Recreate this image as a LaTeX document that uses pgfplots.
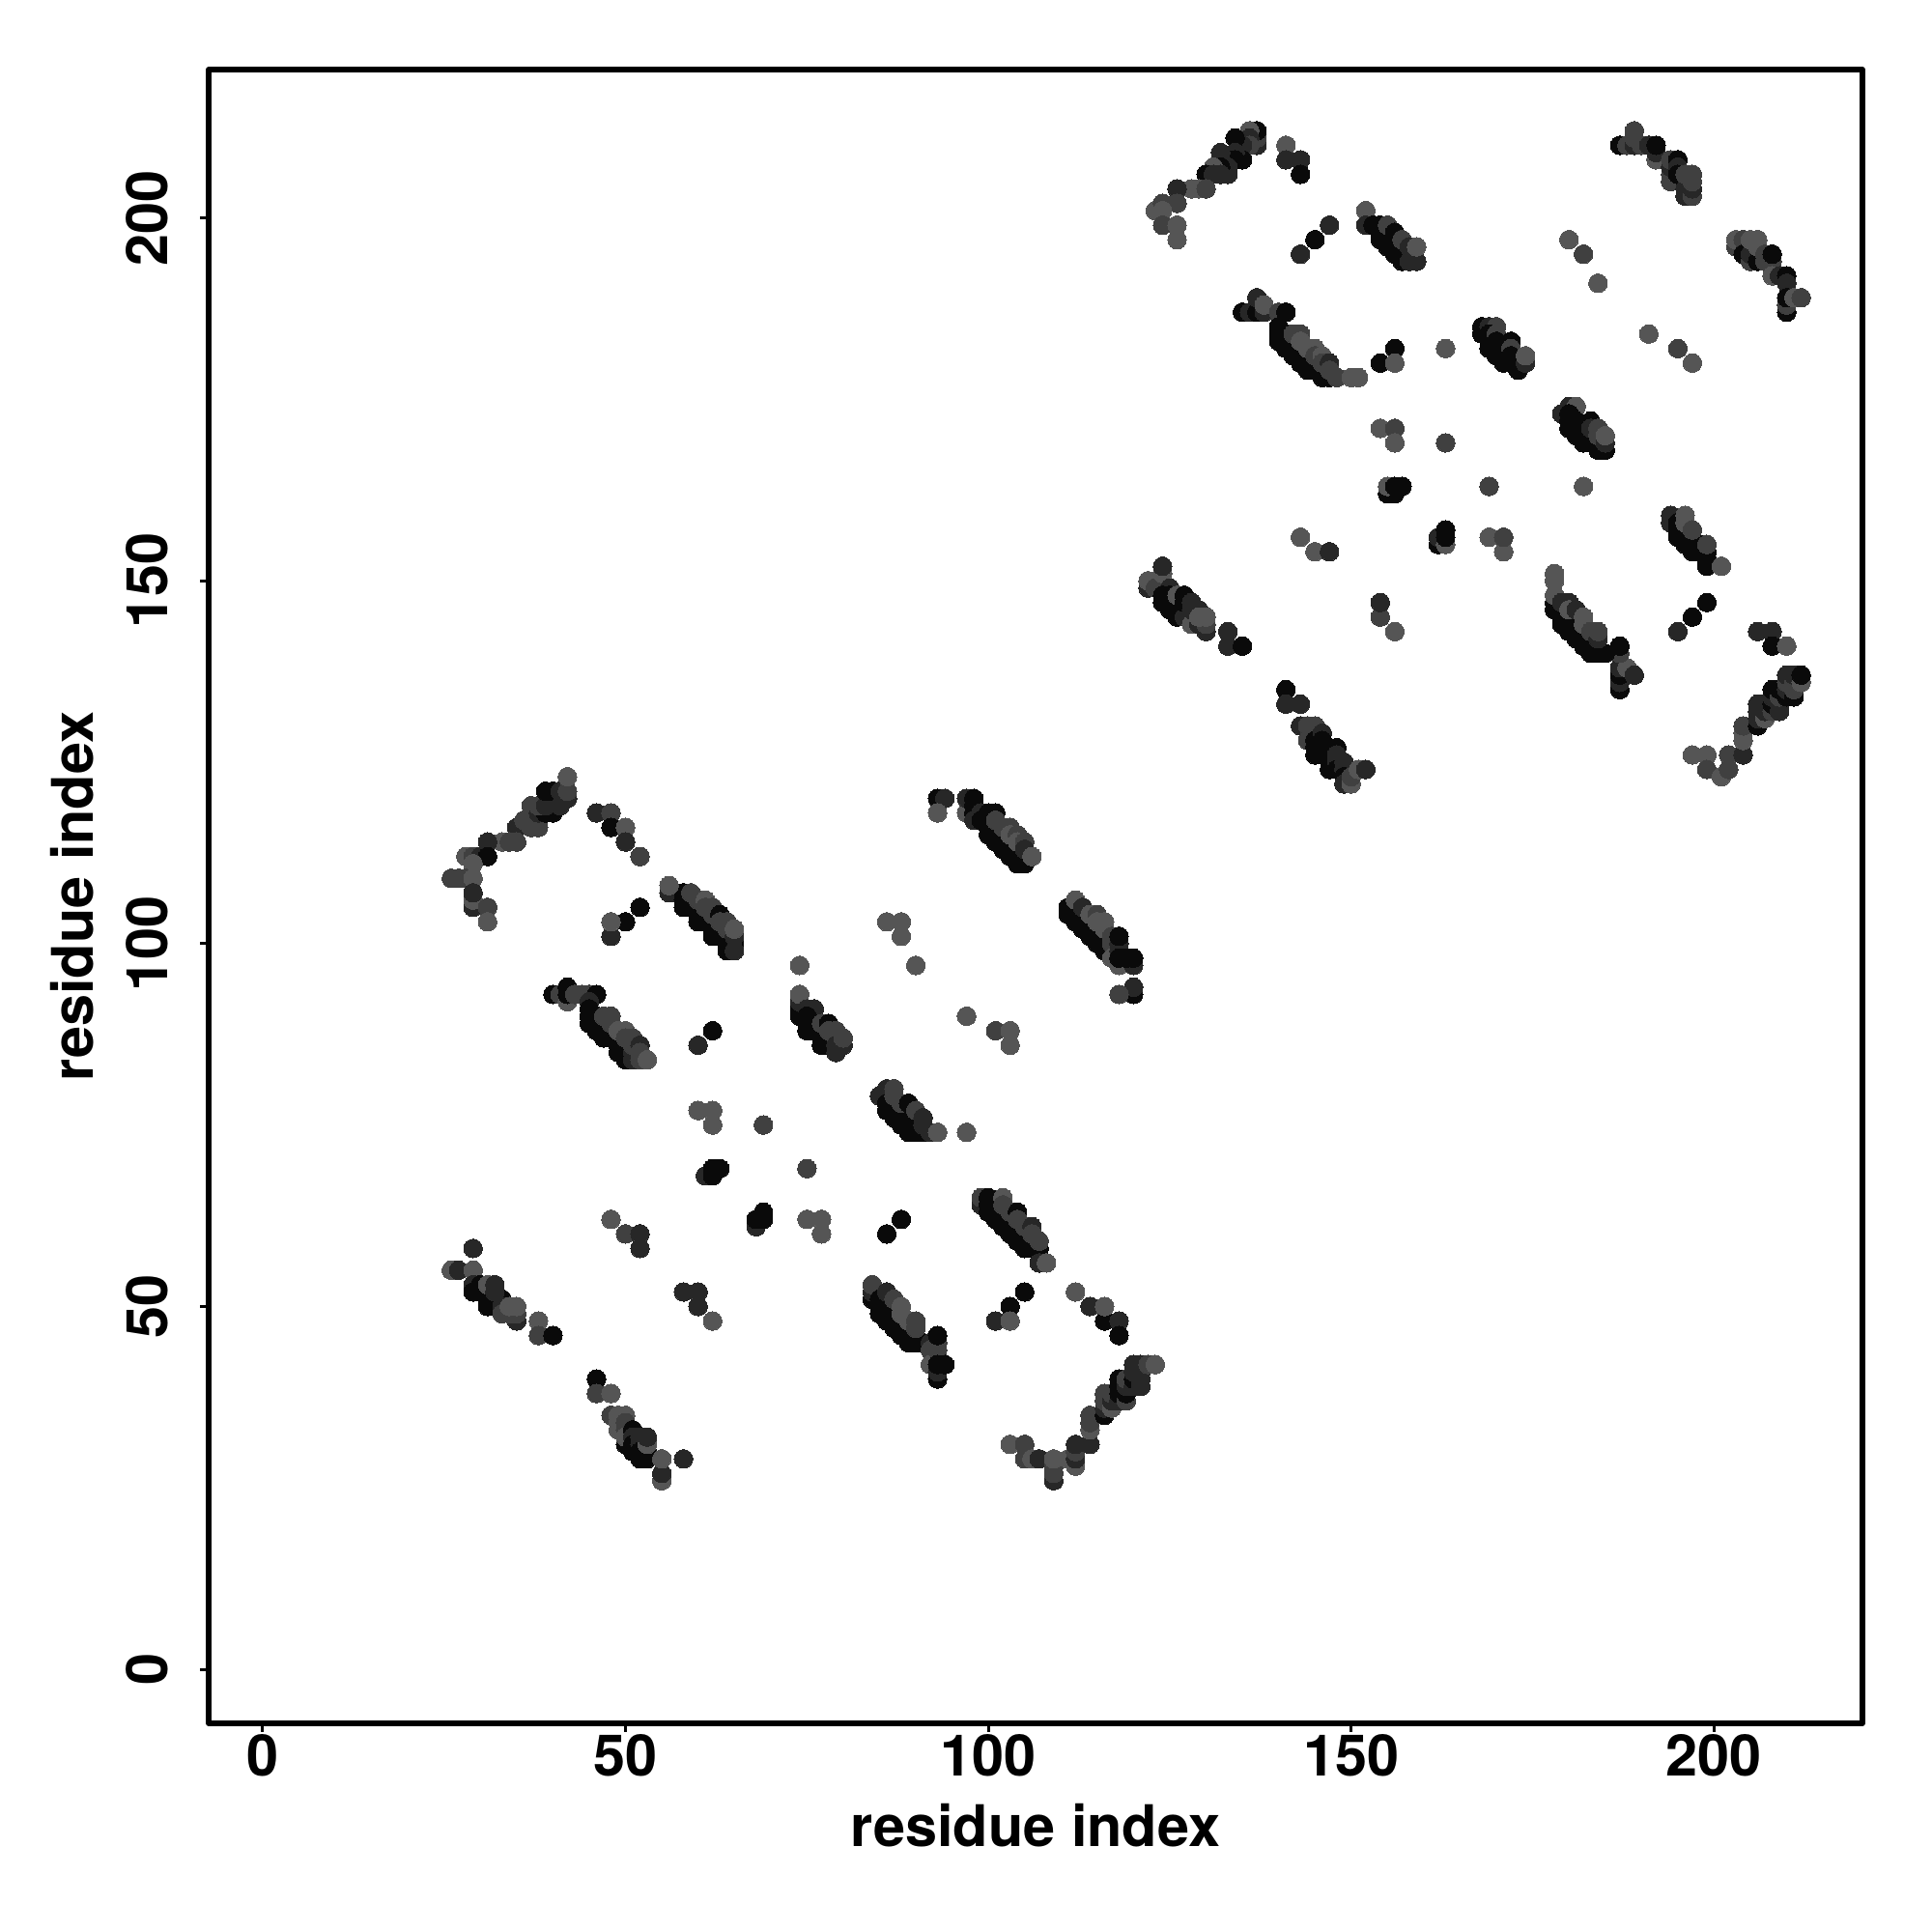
\documentclass[border=0pt]{standalone}
\usepackage{pgfplots}
\usepackage{pgfplotstable}
\usepackage{fontspec}
\setmainfont{TeX Gyre Heros}
\pgfplotsset{compat=1.18}
\pgfplotstableread[row sep=\\]{
x y g\\
35 116 .15\\ 36 117 .25\\ 37 119 .25\\ 37 116 .25\\ 38 116 .25\\ 38 118 .15\\ 39 118 .04\\ 40 118 .04\\ 38 119 .25\\ 39 119 .15\\ 39 121 .04\\ 40 121 .04\\ 41 121 .15\\ 41 119 .15\\ 42 120 .15\\ 42 121 .25\\ 42 123 .33\\
33 114 .33\\ 34 114 .25\\ 35 114 .25\\ 31 114 .15\\ 28 112 .33\\ 29 112 .25\\ 30 112 .15\\ 31 112 .04\\ 29 111 .33\\ 26 109 .25\\ 27 109 .25\\ 28 109 .25\\ 29 109 .33\\ 29 105 .15\\ 29 106 .33\\ 29 107 .15\\ 31 105 .25\\ 31 103 .33\\
46 118 .15\\ 48 118 .25\\ 48 116 .04\\ 50 116 .33\\ 50 114 .15\\ 52 112 .25\\ 52 105 .04\\ 50 103 .04\\ 48 101 .15\\ 48 103 .33\\
56 107 .15\\ 57 107 .15\\ 58 107 .04\\ 58 106 .04\\ 58 105 .04\\ 59 106 .04\\ 59 105 .04\\ 60 105 .04\\ 60 104 .04\\ 60 103 .04\\ 61 104 .04\\ 61 103 .04\\ 62 103 .04\\ 62 102 .04\\ 62 101 .04\\ 63 102 .04\\ 63 101 .04\\ 64 101 .04\\ 64 100 .04\\ 64 99 .04\\ 65 100 .04\\ 65 99 .15\\ 56 108 .33\\ 59 107 .25\\ 60 106 .25\\ 61 106 .33\\ 61 105 .25\\ 62 105 .25\\ 62 104 .25\\ 63 104 .04\\ 63 103 .25\\ 64 103 .25\\ 64 102 .25\\ 65 101 .15\\ 65 102 .33\\
40 93 .04\\ 41 93 .25\\ 42 92 .33\\ 42 93 .04\\ 42 94 .04\\ 43 93 .25\\ 44 93 .25\\ 45 93 .25\\ 46 93 .04\\ 45 92 .15\\ 45 91 .04\\ 45 90 .04\\ 45 89 .04\\ 46 90 .04\\ 46 89 .04\\ 46 88 .04\\ 47 89 .04\\ 47 88 .04\\ 47 87 .04\\ 48 88 .04\\ 48 87 .04\\ 49 87 .04\\ 49 86 .04\\ 49 85 .04\\ 50 86 .04\\ 50 85 .04\\ 50 84 .04\\ 51 85 .15\\ 51 84 .15\\ 47 90 .25\\ 48 90 .25\\ 48 89 .25\\ 49 88 .33\\ 50 88 .33\\ 50 87 .25\\ 51 87 .25\\ 51 86 .25\\ 52 86 .15\\ 52 85 .25\\ 52 84 .25\\ 53 84 .33\\ 62 88 .04\\ 60 86 .15\\
26 55 .33\\ 27 55 .15\\ 29 55 .33\\ 29 58 .15\\ 29 53 .15\\ 29 52 .04\\ 30 53 .04\\ 30 52 .04\\ 31 52 .04\\ 31 51 .04\\ 31 50 .04\\ 32 51 .04\\ 32 50 .04\\ 33 51 .04\\ 33 50 .15\\ 33 49 .25\\ 31 53 .33\\ 32 53 .15\\ 32 52 .15\\ 35 48 .15\\ 34 49 .25\\ 35 49 .25\\ 34 50 .33\\ 35 50 .33\\ 38 48 .33\\ 38 46 .25\\ 40 46 .04\\
58 52 .15\\ 60 52 .15\\ 60 50 .15\\ 62 48 .33\\ 48 62 .33\\ 50 60 .25\\ 52 60 .15\\ 52 58 .15\\
46 40 .04\\ 46 38 .25\\ 48 38 .33\\ 48 35 .25\\ 49 35 .33\\ 50 35 .33\\ 49 33 .33\\ 49 34 .33\\ 50 34 .25\\ 50 33 .25\\ 50 31 .04\\ 50 32 .33\\ 51 33 .04\\ 51 32 .15\\ 51 31 .04\\ 51 30 .04\\ 52 32 .15\\ 52 31 .15\\ 52 30 .04\\ 52 29 .04\\ 53 30 .04\\ 53 29 .04\\ 53 31 .33\\ 53 32 .15\\ 58 29 .15\\ 55 26 .33\\ 55 27 .15\\ 55 29 .33\\
60 77 .33\\ 62 77 .33\\ 62 75 .33\\ 69 75 .25\\ 61 68 .15\\ 62 68 .04\\ 62 69 .04\\ 63 69 .04\\ 68 61 .15\\ 68 62 .04\\ 69 62 .04\\ 69 63 .04\\ 75 69 .25\\ 75 62 .33\\ 77 62 .33\\ 77 60 .33\\ 86 60 .04\\ 88 62 .04\\
93 120 .04\\ 94 120 .15\\ 93 118 .33\\ 97 118 .33\\ 97 120 .15\\ 98 120 .04\\ 98 119 .04\\ 98 118 .04\\ 98 117 .15\\ 99 118 .15\\ 99 117 .04\\ 100 118 .04\\ 101 118 .04\\ 100 117 .04\\ 100 116 .04\\ 100 115 .04\\ 101 116 .04\\ 101 115 .04\\ 101 114 .04\\ 102 115 .04\\ 102 114 .04\\ 102 113 .04\\ 103 114 .04\\ 103 113 .04\\ 103 112 .04\\ 104 112 .04\\ 104 111 .04\\ 105 112 .04\\ 105 111 .04\\ 101 117 .25\\ 102 116 .25\\ 103 116 .25\\ 103 115 .33\\ 104 115 .25\\ 104 114 .33\\ 105 114 .25\\ 105 113 .15\\ 106 112 .33\\
111 105 .04\\ 111 104 .04\\ 112 104 .04\\ 112 103 .04\\ 113 103 .04\\ 113 102 .04\\ 114 102 .04\\ 114 101 .04\\ 115 101 .04\\ 115 100 .04\\ 116 100 .04\\ 116 99 .04\\ 117 99 .04\\ 112 106 .33\\ 113 105 .15\\ 114 104 .33\\ 115 104 .25\\ 115 103 .33\\ 116 103 .33\\ 116 102 .33\\ 117 101 .25\\ 117 100 .25\\ 117 98 .33\\ 118 97 .33\\ 118 100 .15\\ 118 99 .15\\ 118 98 .04\\ 118 101 .04\\ 120 97 .15\\ 120 98 .04\\ 119 98 .04\\ 120 93 .04\\ 120 94 .15\\ 118 93 .25\\
86 103 .33\\ 88 103 .33\\ 88 101 .33\\ 74 97 .33\\ 90 97 .33\\ 97 90 .33\\ 101 88 .25\\ 103 88 .33\\ 103 86 .33\\
74 90 .04\\ 74 91 .04\\ 74 92 .15\\ 74 93 .33\\ 75 91 .15\\ 76 91 .15\\ 75 90 .04\\ 75 89 .04\\ 75 88 .04\\ 76 89 .04\\ 76 88 .04\\ 77 88 .04\\ 77 87 .04\\ 77 86 .04\\ 78 87 .04\\ 78 86 .04\\ 79 85 .15\\ 77 89 .25\\ 78 89 .04\\ 78 88 .25\\ 79 88 .25\\ 79 87 .25\\ 79 86 .15\\ 80 86 .15\\ 80 87 .25\\
85 79 .15\\ 86 80 .15\\ 86 78 .04\\ 86 77 .04\\ 87 78 .04\\ 87 77 .04\\ 87 76 .04\\ 88 77 .04\\ 88 76 .04\\ 88 75 .04\\ 89 76 .04\\ 89 75 .04\\ 89 74 .04\\ 90 75 .04\\ 90 74 .04\\ 91 74 .04\\ 87 80 .25\\ 87 79 .25\\ 88 78 .25\\ 89 78 .04\\ 90 77 .25\\ 91 76 .15\\ 91 75 .15\\ 92 74 .15\\ 93 74 .33\\ 97 74 .33\\
99 64 .15\\ 99 65 .25\\ 100 65 .04\\ 100 64 .04\\ 100 63 .04\\ 101 64 .04\\ 101 63 .04\\ 101 62 .04\\ 102 63 .04\\ 102 62 .04\\ 102 61 .04\\ 103 62 .04\\ 103 61 .04\\ 103 60 .04\\ 104 61 .04\\ 104 60 .04\\ 104 59 .04\\ 105 60 .04\\ 105 59 .04\\ 105 58 .04\\ 106 59 .04\\ 106 58 .04\\ 107 58 .04\\ 102 65 .33\\ 102 64 .25\\ 103 63 .25\\ 104 63 .04\\ 104 62 .25\\ 105 61 .25\\ 106 61 .15\\ 106 60 .25\\ 107 59 .25\\ 107 56 .15\\ 108 56 .33\\
105 52 .04\\ 103 50 .04\\ 101 48 .15\\ 103 48 .33\\ 112 52 .33\\ 114 50 .15\\ 116 48 .04\\ 116 50 .33\\ 118 48 .15\\ 118 46 .04\\
103 31 .33\\ 105 31 .25\\ 105 29 .25\\ 106 29 .33\\ 107 29 .15\\ 109 26 .15\\ 109 27 .25\\ 109 28 .25\\ 109 29 .33\\ 111 29 .33\\ 112 28 .33\\ 112 29 .15\\ 112 30 .25\\ 112 31 .15\\ 114 31 .15\\ 114 33 .33\\ 114 34 .25\\ 114 35 .25\\ 116 35 .04\\ 116 36 .15\\ 116 37 .25\\ 116 38 .25\\ 117 36 .33\\ 117 37 .15\\ 117 38 .25\\ 118 37 .15\\ 118 38 .04\\ 118 39 .04\\ 118 40 .04\\ 119 37 .25\\ 119 38 .04\\ 119 39 .15\\ 119 40 .25\\ 120 39 .15\\ 120 40 .04\\ 120 41 .15\\ 120 42 .15\\ 121 39 .15\\ 121 40 .15\\ 121 41 .15\\ 121 42 .15\\ 122 42 .25\\ 123 42 .33\\
84 51 .04\\ 84 52 .15\\ 84 53 .25\\ 85 50 .04\\ 85 49 .04\\ 85 51 .04\\ 86 50 .04\\ 86 49 .04\\ 86 48 .04\\ 87 49 .04\\ 87 48 .04\\ 87 47 .04\\ 88 47 .04\\ 88 46 .04\\ 89 46 .04\\ 89 45 .04\\ 90 45 .04\\ 91 45 .04\\ 86 52 .15\\ 87 51 .25\\ 88 50 .33\\ 88 49 .33\\ 89 48 .33\\ 90 48 .25\\ 90 47 .25\\ 92 45 .15\\ 92 44 .25\\ 92 42 .33\\ 93 44 .25\\ 93 45 .25\\ 93 46 .04\\ 93 40 .04\\ 93 41 .15\\ 93 42 .04\\ 94 42 .04\\
137 210 .15\\ 137 211 .25\\ 137 212 .04\\ 136 212 .33\\ 136 211 .15\\ 136 210 .25\\ 135 210 .15\\ 135 208 .04\\ 134 211 .04\\ 134 209 .15\\ 134 208 .04\\ 133 206 .15\\ 133 208 .04\\ 133 207 .15\\ 132 209 .15\\ 132 208 .15\\ 132 207 .04\\ 131 207 .33\\ 130 206 .04\\ 131 206 .15\\ 132 206 .15\\ 128 204 .33\\ 129 204 .33\\ 130 204 .25\\ 126 204 .15\\ 126 202 .25\\ 123 201 .33\\ 124 202 .25\\ 124 201 .33\\ 124 199 .25\\ 126 197 .33\\ 126 199 .33\\
141 210 .33\\ 141 208 .15\\ 143 208 .15\\ 143 206 .04\\ 147 199 .15\\ 145 197 .04\\ 143 195 .15\\
152 201 .33\\ 152 199 .15\\ 153 199 .04\\ 154 199 .04\\ 154 198 .04\\ 154 197 .04\\ 155 198 .04\\ 155 197 .04\\ 155 196 .04\\ 156 196 .04\\ 156 195 .04\\ 157 196 .04\\ 157 195 .04\\ 157 194 .04\\ 158 195 .04\\ 158 194 .15\\ 159 194 .15\\ 155 199 .25\\ 156 198 .04\\ 157 197 .25\\ 158 196 .15\\ 159 196 .33\\
135 187 .04\\ 136 187 .15\\ 137 187 .04\\ 137 189 .15\\ 138 187 .15\\ 138 188 .33\\ 140 187 .25\\ 141 187 .04\\ 140 183 .04\\ 140 184 .04\\ 140 185 .04\\ 141 184 .04\\ 141 183 .04\\ 141 182 .04\\ 142 183 .04\\ 142 182 .04\\ 142 181 .04\\ 143 182 .04\\ 143 181 .04\\ 143 180 .04\\ 144 181 .04\\ 144 180 .04\\ 144 179 .04\\ 145 180 .04\\ 145 179 .04\\ 146 179 .04\\ 146 178 .04\\ 147 178 .04\\ 142 184 .25\\ 143 184 .25\\ 143 183 .33\\ 144 182 .33\\ 145 182 .33\\ 145 181 .25\\ 146 181 .33\\ 146 180 .25\\ 147 180 .15\\ 147 179 .25\\ 148 178 .25\\ 150 178 .33\\ 151 178 .33\\ 156 182 .04\\ 154 180 .04\\ 156 180 .33\\ 163 182 .33\\
187 210 .04\\ 188 210 .25\\ 189 210 .15\\ 189 211 .25\\ 189 212 .25\\ 190 210 .25\\ 191 210 .15\\ 192 208 .33\\ 192 209 .15\\ 192 210 .04\\ 194 206 .25\\ 194 205 .25\\ 194 207 .15\\ 194 208 .25\\ 195 208 .04\\ 195 207 .15\\ 195 206 .04\\ 196 205 .04\\ 196 203 .15\\ 196 204 .15\\ 197 203 .25\\ 197 204 .15\\ 197 205 .25\\ 197 206 .25\\ 196 206 .25\\
180 197 .33\\ 182 195 .25\\ 184 191 .33\\ 191 184 .33\\ 195 182 .25\\ 197 180 .33\\
203 196 .25\\ 203 197 .33\\ 204 197 .25\\ 204 195 .04\\ 205 194 .25\\ 205 195 .15\\ 206 194 .04\\ 205 197 .33\\ 206 197 .33\\ 206 196 .33\\ 207 195 .25\\ 207 194 .25\\ 208 194 .25\\ 208 195 .04\\ 208 192 .33\\ 209 192 .15\\ 210 192 .04\\ 210 191 .15\\ 210 187 .04\\ 210 188 .25\\ 210 189 .04\\ 211 189 .33\\ 212 189 .25\\
168 184 .04\\ 168 185 .04\\ 169 185 .15\\ 170 185 .25\\ 169 184 .04\\ 169 183 .04\\ 169 182 .04\\ 170 184 .25\\ 170 183 .04\\ 170 182 .04\\ 170 181 .04\\ 171 182 .04\\ 171 181 .04\\ 171 180 .04\\ 172 183 .04\\ 172 182 .25\\ 172 181 .04\\ 172 180 .04\\ 173 180 .04\\ 173 179 .04\\ 174 180 .15\\ 174 181 .33\\
179 173 .15\\ 180 174 .15\\ 181 174 .33\\ 180 173 .04\\ 180 172 .04\\ 180 171 .04\\ 181 172 .04\\ 181 171 .04\\ 181 170 .04\\ 182 171 .04\\ 182 170 .04\\ 182 169 .04\\ 183 170 .04\\ 183 169 .04\\ 184 169 .04\\ 184 168 .04\\ 185 168 .04\\ 183 172 .04\\ 183 171 .15\\ 184 171 .25\\ 184 170 .25\\ 185 169 .15\\ 185 170 .33\\ 169 163 .25\\ 182 163 .33\\
154 171 .33\\ 156 171 .25\\ 156 169 .33\\ 163 169 .25\\ 155 162 .04\\ 156 162 .04\\ 155 163 .33\\ 156 163 .04\\ 157 163 .04\\
143 156 .33\\ 145 154 .33\\ 147 154 .15\\ 162 155 .04\\ 162 156 .15\\ 163 155 .33\\ 163 156 .04\\ 163 157 .04\\ 169 156 .33\\ 171 154 .33\\ 171 156 .25\\
122 149 .15\\ 122 150 .33\\ 123 150 .33\\ 123 149 .25\\ 124 149 .25\\ 124 151 .33\\ 124 152 .15\\ 125 149 .15\\ 124 148 .04\\ 124 147 .04\\ 125 148 .04\\ 125 147 .04\\ 125 146 .04\\ 126 147 .04\\ 126 146 .04\\ 126 145 .04\\ 127 146 .04\\ 127 145 .15\\ 128 144 .33\\ 129 144 .15\\ 130 143 .15\\ 126 148 .33\\ 127 148 .04\\ 127 147 .04\\ 128 147 .15\\ 128 146 .15\\ 129 146 .15\\ 130 144 .25\\ 129 145 .33\\ 130 145 .33\\ 133 141 .15\\ 133 143 .15\\ 135 141 .04\\ 154 145 .25\\ 154 147 .15\\ 156 143 .33\\
141 135 .04\\ 141 133 .15\\ 143 133 .15\\ 143 130 .15\\ 144 130 .25\\ 145 130 .25\\ 144 128 .25\\ 145 129 .25\\ 145 128 .04\\ 145 127 .04\\ 145 126 .04\\ 146 129 .15\\ 146 128 .04\\ 146 127 .04\\ 146 126 .04\\ 147 127 .04\\ 147 126 .04\\ 147 125 .04\\ 147 124 .04\\ 148 127 .04\\ 148 126 .15\\ 148 125 .15\\ 148 124 .04\\ 149 125 .15\\ 149 124 .15\\ 149 123 .04\\ 149 122 .15\\ 150 122 .33\\ 150 123 .25\\ 151 124 .33\\ 152 124 .15\\
187 135 .04\\ 187 136 .15\\ 187 137 .04\\ 187 138 .15\\ 188 138 .33\\ 189 137 .15\\ 187 140 .25\\ 187 141 .04\\
178 146 .04\\ 178 147 .04\\ 178 148 .33\\ 178 150 .33\\ 178 151 .33\\ 179 145 .04\\ 179 144 .04\\ 179 146 .04\\ 180 145 .04\\ 180 144 .04\\ 180 143 .04\\ 181 144 .04\\ 181 143 .04\\ 181 142 .04\\ 182 143 .04\\ 182 142 .04\\ 182 141 .04\\ 183 142 .04\\ 183 141 .04\\ 183 140 .04\\ 184 140 .04\\ 185 140 .04\\ 179 147 .15\\ 180 147 .15\\ 180 146 .33\\ 181 146 .15\\ 182 145 .33\\ 182 144 .33\\ 183 143 .25\\ 184 142 .15\\ 184 143 .25\\
194 158 .15\\ 194 159 .15\\ 195 158 .04\\ 195 157 .04\\ 195 156 .04\\ 196 157 .04\\ 196 156 .04\\ 196 155 .04\\ 197 155 .04\\ 197 154 .04\\ 198 155 .04\\ 198 154 .04\\ 199 152 .04\\ 199 153 .04\\ 199 154 .04\\ 199 155 .25\\ 196 158 .33\\ 196 159 .33\\ 197 157 .25\\ 201 152 .33\\ 199 147 .04\\ 197 145 .04\\ 195 143 .15\\
206 143 .15\\ 208 143 .15\\ 208 141 .04\\ 210 141 .33\\
197 126 .33\\ 199 126 .33\\ 199 124 .25\\ 201 123 .33\\ 202 124 .25\\ 202 126 .25\\ 204 126 .15\\ 204 128 .33\\ 204 129 .33\\ 204 130 .25\\ 206 130 .04\\ 206 131 .15\\ 206 132 .15\\ 206 133 .15\\ 207 131 .33\\ 207 132 .15\\ 207 133 .15\\ 208 132 .25\\ 208 133 .04\\ 208 134 .15\\ 208 135 .04\\ 209 132 .15\\ 209 133 .15\\ 209 134 .25\\ 209 135 .04\\ 210 134 .04\\ 210 135 .15\\ 210 136 .25\\ 210 137 .15\\ 211 134 .04\\ 211 135 .25\\ 211 136 .25\\ 211 137 .15\\ 212 136 .33\\ 212 137 .04\\
}\datatable
\begin{document}
\begin{tikzpicture}
\useasboundingbox (-2.16,-2.16) rectangle (17.84,17.84);
\begin{axis}[
  scale only axis, width=17.12cm, height=17.12cm,
  xmin=-7.44, xmax=220.44, ymin=-7.44, ymax=220.44,
  xtick={0,50,100,150,200}, ytick={0,50,100,150,200},
  axis line style={line width=1.56pt,line join=round}, tick style={line width=.85pt,black},
  tick align=outside, major tick length=.87mm,
  xtick pos=bottom, ytick pos=left,
  /pgf/number format/assume math mode=true,
  tick label style={font=\bfseries\fontsize{16.9}{20}\selectfont},
  xticklabel style={yshift=.95mm},
  yticklabel style={rotate=90,anchor=south,yshift=2.05mm},
  label style={font=\bfseries\fontsize{16.9}{20}\selectfont},
  xlabel={residue index}, ylabel={residue index},
  xlabel style={at={(axis description cs:0.5,-0.0617)},anchor=center},
  ylabel style={at={(axis description cs:-0.0823,0.5)},anchor=center,rotate=0},
  colormap={g}{gray(0cm)=(0); gray(1cm)=(1)},
  point meta min=0, point meta max=1,
]
\addplot[scatter, only marks, mark=*, mark size=2.75pt, line width=0pt,
  scatter src=explicit,
  scatter/use mapped color={draw=mapped color, fill=mapped color}]
  table[x=x, y=y, meta=g] {\datatable};
\end{axis}
\end{tikzpicture}
\end{document}
